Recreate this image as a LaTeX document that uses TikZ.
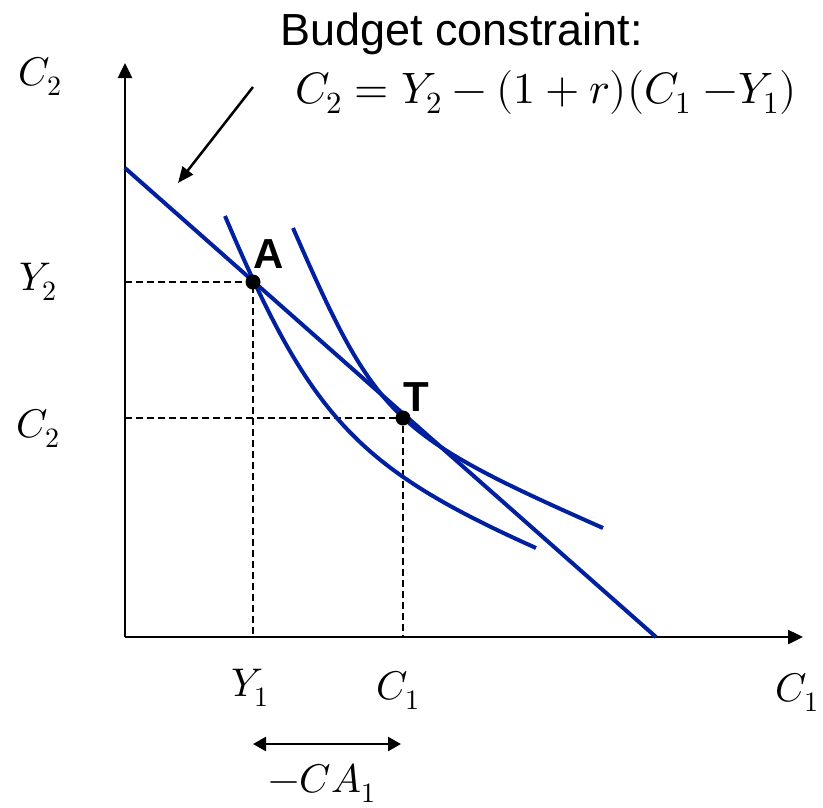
\documentclass[tikz,border=0pt]{standalone}
\usepackage{fontspec}
\usepackage{unicode-math}
\setmainfont{Liberation Sans}
\setmathfont{Latin Modern Math}
\usetikzlibrary{positioning, arrows.meta}
\definecolor{curveblue}{RGB}{0,32,160}

\begin{document}
\begin{tikzpicture}[x=1pt, y=-1pt,
    curve/.style={curveblue, line width=4pt},
    axis/.style={line width=2.5pt, -{Triangle[length=15pt,width=14pt]}},
    guide/.style={line width=1.8pt, dash pattern=on 7pt off 4pt},
    lbl/.style={font=\fontsize{40}{44}\selectfont},
    ptname/.style={font=\fontsize{42}{46}\selectfont\bfseries, inner sep=0pt}]
    \useasboundingbox (0,0) rectangle (823,807);

    % Axes
    \coordinate (O) at (125,637);
    \coordinate (ytop) at (125,63);
    \coordinate (xend) at (803,637);
    \draw[axis] (O) -- (ytop);
    \draw[axis] (O) -- (xend);

    % Points
    \coordinate (A) at (253,282);
    \coordinate (T) at (403,418);

    % Dashed guides
    \foreach \p in {A, T} {
      \draw[guide] (\p -| O) -- (\p) -- (\p |- O);
    }

    % Budget line
    \coordinate (b0) at (125,168);
    \coordinate (b1) at (656,637);
    \draw[curve] (b0) -- (b1);

    % Indifference curves
    \draw[curve] (225,216) .. controls (310.7,418) and (357.3,467.8) .. (536,548);
    \draw[curve] (293,228) .. controls (376.5,419.5) and (392,434.5) .. (603,528);

    % Dots and their names
    \foreach \p in {A, T} {
      \fill (\p) circle[radius=7.5];
    }
    \node[ptname, above right=13pt and 0pt of A] (labA) {A};
    \node[ptname, above right=6pt and 0pt of T] (labT) {T};

    % Axis labels
    \node[lbl] (c2top) at (40,76) {$C_2$};
    \node[lbl] (y2) at (38,282) {$Y_2$};
    \node[lbl] (c2) at (38,428) {$C_2$};
    \node[lbl] (y1) at (250,688) {$Y_1$};
    \node[lbl] (c1) at (398,690) {$C_1$};
    \node[lbl] (c1end) at (797,692) {$C_1$};

    % Current account
    \coordinate (ca0) at (253,744);
    \coordinate (ca1) at (401,744);
    \draw[line width=2.5pt, {Triangle[length=13pt,width=14pt]}-{Triangle[length=13pt,width=14pt]}] (ca0) -- (ca1);
    \node[lbl] (ca) at (322,783) {$-CA_1$};

    % Budget constraint
    \node[font=\fontsize{45}{49}\selectfont, anchor=base west, inner sep=0pt] (title) at (280,45) {Budget constraint:};
    \node[font=\fontsize{44}{48}\selectfont, anchor=base, inner sep=0pt] (eq) at (546,103) {$C_2 = Y_2 - (1+r)(C_1\;{-}Y_1)$};
    \coordinate (ptr) at (253,87);
    \draw[line width=2.5pt, -{Triangle[length=16pt,width=13pt]}] (ptr) -- (178,183);
  \end{tikzpicture}
\end{document}
